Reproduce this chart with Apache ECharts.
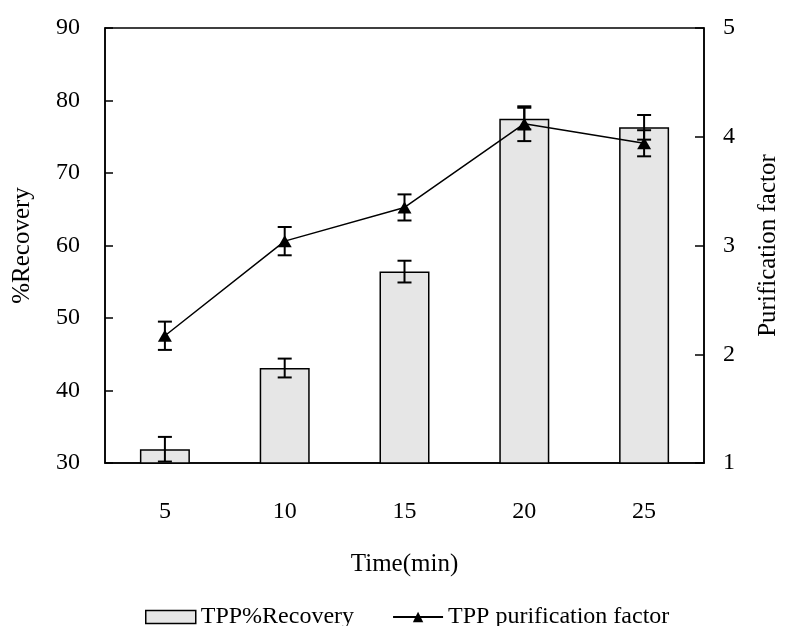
<!DOCTYPE html>
<html>
<head>
<meta charset="utf-8">
<script src="https://cdn.jsdelivr.net/npm/echarts@6/dist/echarts.min.js"></script>
<style>html,body{margin:0;padding:0;background:#fff}#c{width:789px;height:626px}</style>
</head>
<body>
<div id="c"></div>
<script>
var categories = ['5', '10', '15', '20', '25'];
var recovery = [31.9, 43.1, 56.4, 77.5, 76.3];
var recoveryErr = [1.7, 1.3, 1.5, 1.5, 1.7];
var purification = [2.17, 3.04, 3.35, 4.12, 3.94];
var purificationErr = [0.13, 0.13, 0.12, 0.16, 0.12];
var leftTicks = [30, 40, 50, 60, 70, 80, 90];
var rightTicks = [1, 2, 3, 4, 5];

var FONT = '"Liberation Serif", "Times New Roman", serif';
var chart = echarts.init(document.getElementById('c'), null, {renderer: 'canvas'});

function errData(vals, errs) {
  return vals.map(function (v, i) { return [i, v - errs[i], v + errs[i]]; });
}
function errRender(params, api) {
  var x = api.value(0);
  var lo = api.coord([x, api.value(1)]);
  var hi = api.coord([x, api.value(2)]);
  var cap = 7;
  var st = {stroke: '#000', lineWidth: 2};
  return {
    type: 'group',
    children: [
      {type: 'line', shape: {x1: lo[0], y1: lo[1], x2: hi[0], y2: hi[1]}, style: st},
      {type: 'line', shape: {x1: lo[0] - cap, y1: lo[1], x2: lo[0] + cap, y2: lo[1]}, style: st},
      {type: 'line', shape: {x1: hi[0] - cap, y1: hi[1], x2: hi[0] + cap, y2: hi[1]}, style: st}
    ]
  };
}

chart.setOption({
  animation: false,
  backgroundColor: '#fff',
  textStyle: {fontFamily: FONT},
  grid: {left: 105, right: 78, top: 28, bottom: 163, show: true, borderColor: '#000', borderWidth: 1.5, backgroundColor: 'transparent'},
  legend: {
    top: 600, left: 140,
    itemGap: 38,
    textStyle: {fontFamily: FONT, fontSize: 24, color: '#000', padding: [0, 0, 0, 0]},
    data: [
      {name: 'TPP%Recovery', icon: 'rect', itemStyle: {color: '#e6e6e6', borderColor: '#000', borderWidth: 1.5}},
      {name: 'TPP purification factor'}
    ],
    itemWidth: 50, itemHeight: 13
  },
  xAxis: {
    type: 'category',
    data: categories,
    boundaryGap: true,
    name: 'Time(min)',
    nameLocation: 'middle',
    nameGap: 89,
    nameTextStyle: {fontFamily: FONT, fontSize: 25, color: '#000'},
    axisLine: {lineStyle: {color: '#000', width: 1.5}},
    axisTick: {inside: true, length: 7, lineStyle: {color: '#000', width: 1.5}},
    axisLabel: {fontFamily: FONT, fontSize: 24, color: '#000', margin: 37},
    splitLine: {show: false}
  },
  yAxis: [
    {
      type: 'value', min: 30, max: 90, interval: 10,
      name: '%Recovery', nameLocation: 'middle', nameGap: 70,
      nameTextStyle: {fontFamily: FONT, fontSize: 25, color: '#000'},
      axisLine: {show: true, lineStyle: {color: '#000', width: 1.5}},
      axisTick: {show: true, inside: true, length: 8, lineStyle: {color: '#000', width: 1.5}},
      axisLabel: {fontFamily: FONT, fontSize: 24, color: '#000', margin: 25,
        formatter: function (v) { return leftTicks.indexOf(v) >= 0 ? String(v) : ''; }},
      splitLine: {show: false}
    },
    {
      type: 'value', min: 1, max: 5, interval: 1, position: 'right',
      name: 'Purification factor', nameLocation: 'middle', nameGap: 52,
      nameTextStyle: {fontFamily: FONT, fontSize: 25, color: '#000'},
      axisLine: {show: true, lineStyle: {color: '#000', width: 1.5}},
      axisTick: {show: true, inside: true, length: 9, lineStyle: {color: '#000', width: 1.5}},
      axisLabel: {fontFamily: FONT, fontSize: 24, color: '#000', margin: 19,
        formatter: function (v) { return rightTicks.indexOf(v) >= 0 ? String(v) : ''; }},
      splitLine: {show: false}
    }
  ],
  series: [
    {
      name: 'TPP%Recovery', type: 'bar', yAxisIndex: 0, data: recovery,
      barWidth: 50,
      itemStyle: {color: '#e6e6e6', borderColor: '#000', borderWidth: 1.5},
      z: 2
    },
    {
      name: 'recErr', type: 'custom', yAxisIndex: 0,
      data: errData(recovery, recoveryErr), renderItem: errRender, z: 3,
      encode: {x: 0, y: [1, 2]}
    },
    {
      name: 'TPP purification factor', type: 'line', yAxisIndex: 1, data: purification,
      symbol: 'triangle', symbolSize: [14, 12],
      itemStyle: {color: '#000'},
      lineStyle: {color: '#000', width: 1.5},
      z: 5
    },
    {
      name: 'purErr', type: 'custom', yAxisIndex: 1,
      data: errData(purification, purificationErr), renderItem: errRender, z: 4,
      encode: {x: 0, y: [1, 2]}
    }
  ]
});
</script>
</body>
</html>
